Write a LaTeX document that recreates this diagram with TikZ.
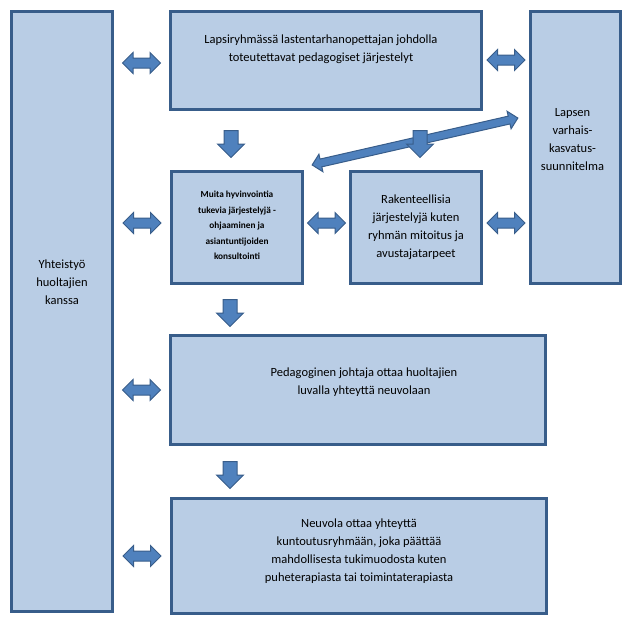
\documentclass[tikz,border=0pt]{standalone}
\usepackage{fontspec}
\setmainfont{Carlito}
\usetikzlibrary{shapes.arrows,calc}

\definecolor{boxfill}{RGB}{185,205,229}
\definecolor{boxline}{RGB}{56,93,138}
\definecolor{arrowfill}{RGB}{79,129,189}

\tikzset{
  box/.style={draw=boxline, fill=boxfill, line width=3pt, inner sep=0pt},
  txt/.style={align=center, inner sep=0pt, font=\fontsize{12.5}{18}\selectfont},
  smalltxt/.style={align=center, inner sep=0pt, font=\bfseries\fontsize{9.3}{15.6}\selectfont},
  twoway/.style={double arrow, draw=boxline, fill=arrowfill, line width=1pt,
    inner xsep=0pt, inner ysep=4.5pt, minimum height=38pt, double arrow head extend=5.5pt},
  downway/.style={single arrow, draw=boxline, fill=arrowfill, line width=1pt,
    inner xsep=0pt, inner ysep=6.5pt, rotate=-90, minimum height=27pt, single arrow head extend=6.5pt},
  diagway/.style={double arrow, draw=boxline, fill=arrowfill, line width=1pt,
    inner xsep=0pt, inner ysep=3.5pt, double arrow head extend=5pt}
}

\begin{document}
\begin{tikzpicture}[x=1pt,y=1pt,yscale=-1,xscale=1]
    \useasboundingbox (0,0) rectangle (629,627);

    %Shape: Rectangle
    \node [box, minimum width=101pt, minimum height=600pt] (yht) at (62,311.5) {};
    \node [box, minimum width=311pt, minimum height=98pt] (top) at (326,60.5) {};
    \node [box, minimum width=90pt, minimum height=272pt] (lapsen) at (575.5,147.5) {};
    \node [box, minimum width=131pt, minimum height=112pt] (muita) at (237,227.5) {};
    \node [box, minimum width=131pt, minimum height=112pt] (rak) at (416,227.5) {};
    \node [box, minimum width=375pt, minimum height=109pt] (ped) at (358,390) {};
    \node [box, minimum width=375pt, minimum height=115pt] (neu) at (359,556) {};

    % Text Node
    \node [txt] (yht-txt) at ($(yht)+(0,-29)$) {Yhteistyö\\huoltajien\\kanssa};
    % Text Node
    \node [txt] (top-txt) at ($(top)+(-5,-11)$) {Lapsiryhmässä lastentarhanopettajan johdolla\\toteutettavat pedagogiset järjestelyt};
    % Text Node
    \node [txt] (lapsen-txt) at ($(lapsen)+(-3,-8)$) {Lapsen\\varhais-\\kasvatus-\\suunnitelma};
    % Text Node
    \node [smalltxt] (muita-txt) at ($(muita)+(0,-2)$) {Muita hyvinvointia\\tukevia järjestelyjä -\\ohjaaminen ja\\asiantuntijoiden\\konsultointi};
    % Text Node
    \node [txt] (rak-txt) at (rak) {Rakenteellisia\\järjestelyjä kuten\\ryhmän mitoitus ja\\avustajatarpeet};
    % Text Node
    \node [txt] (ped-txt) at ($(ped)+(6,-8)$) {Pedagoginen johtaja ottaa huoltajien\\luvalla yhteyttä neuvolaan};
    % Text Node
    \node [txt] (neu-txt) at ($(neu)+(0,-5)$) {Neuvola ottaa yhteyttä\\kuntoutusryhmään, joka päättää\\mahdollisesta tukimuodosta kuten\\puheterapiasta tai toimintaterapiasta};

    %Shape: Left-Right Arrow
    \node [twoway] (yht-top) at ($(yht.east |- 0,63)!.5!(top.west |- 0,63)$) {};
    \node [twoway] (top-lapsen) at ($(top.east |- 0,60)!.5!(lapsen.west |- 0,60)$) {};
    \node [twoway] (yht-muita) at ($(yht.east |- 0,223)!.5!(muita.west |- 0,223)$) {};
    \node [twoway] (muita-rak) at ($(muita.east |- 0,223)!.5!(rak.west |- 0,223)$) {};
    \node [twoway] (rak-lapsen) at ($(rak.east |- 0,223)!.5!(lapsen.west |- 0,223)$) {};
    \node [twoway] (yht-ped) at ($(yht.east |- ped)!.5!(ped.west)$) {};
    \node [twoway] (yht-neu) at ($(yht.east |- neu)!.5!(neu.west)$) {};

    %Shape: Left-Right Arrow (slanted)
    \node [diagway, minimum height=211pt, rotate=12.85] (muita-lapsen) at (415,141.5) {};

    %Shape: Down Arrow
    \node [downway] (top-muita) at ($(top.south -| 231,0)!.5!(muita.north -| 231,0)$) {};
    \node [downway] (top-diag) at ($(top.south -| 420,0)!.5!(muita.north -| 420,0)$) {};
    \node [downway] (muita-ped) at ($(muita.south -| 230,0)!.5!(ped.north -| 230,0)$) {};
    \node [downway] (ped-neu) at ($(ped.south -| 230,0)!.5!(neu.north -| 230,0)$) {};
\end{tikzpicture}
\end{document}
